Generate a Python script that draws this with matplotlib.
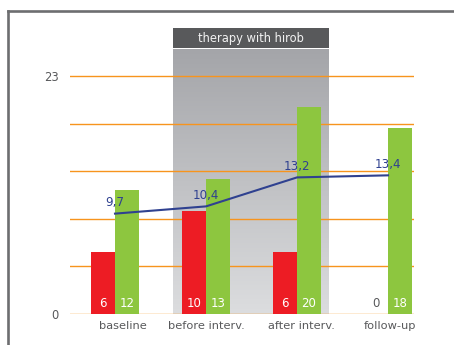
import numpy as np
import matplotlib
matplotlib.use("Agg")
import matplotlib.pyplot as plt
from matplotlib.lines import Line2D
from matplotlib.patches import Rectangle

categories = ["baseline", "before interv.", "after interv.", "follow-up"]
red_values = [6, 10, 6, 0]
green_values = [12, 13, 20, 18]
line_values = [9.7, 10.4, 13.2, 13.4]
line_labels = ["9,7", "10,4", "13,2", "13,4"]
ytick_values = [0, 23]
grid_values = [0, 4.6, 9.2, 13.8, 18.4, 23]
header_text = "therapy with hirob"

W, H = 454, 345
fig = plt.figure(figsize=(W / 100, H / 100), dpi=100)
fig.patch.set_facecolor("white")

# axes placement in pixels
ax_left, ax_right = 70, 414
ax_bottom_px, ax_top_px = 314, 28
ax = fig.add_axes([ax_left / W, (H - ax_bottom_px) / H,
                   (ax_right - ax_left) / W, (ax_bottom_px - ax_top_px) / H])
px_per_unit = (314 - 76) / 23.0
group_px = 91.0
x0_px = 115.0
ax.set_xlim((ax_left - x0_px) / group_px, (ax_right - x0_px) / group_px)
ax.set_ylim(0, (ax_bottom_px - ax_top_px) / px_per_unit)
for s in ax.spines.values():
    s.set_visible(False)
ax.set_facecolor("none")

# shaded therapy region with gradient
sx0 = (173 - x0_px) / group_px
sx1 = (329 - x0_px) / group_px
sy1 = (314 - 49) / px_per_unit
grad = np.linspace(0, 1, 256).reshape(-1, 1)
top_c = np.array([0xa4, 0xa5, 0xa9]) / 255
bot_c = np.array([0xdc, 0xdd, 0xdf]) / 255
img = top_c * (1 - grad[..., None]) + bot_c * grad[..., None]
img = img.reshape(256, 1, 3)
ax.imshow(img, extent=[sx0, sx1, 0, sy1], origin="upper", aspect="auto", zorder=0)
# header
hy0 = (314 - 48.3) / px_per_unit
hy1 = (314 - 27.7) / px_per_unit
ax.add_patch(Rectangle((sx0, hy0), sx1 - sx0, hy1 - hy0, facecolor="#58595b",
                       edgecolor="none", zorder=1, clip_on=False))
ax.text((sx0 + sx1) / 2, (hy0 + hy1) / 2 - 0.05, header_text, color="#f2f2f2",
        ha="center", va="center", fontsize=8.3, family="DejaVu Sans", zorder=2)

# gridlines
for g in grid_values:
    ax.axhline(g, color="#f7941d", lw=1.0, zorder=1.5)

x = np.arange(len(categories))
bw = 24 / group_px
ax.bar(x - bw / 2, red_values, width=bw, color="#ed1c24", zorder=3)
ax.bar(x + bw / 2, green_values, width=bw, color="#8dc63f", zorder=3)

for i in range(len(categories)):
    rc = "white" if red_values[i] > 0 else "#58595b"
    ax.text(x[i] - bw / 2, 0.4, str(red_values[i]), color=rc, ha="center",
            va="bottom", fontsize=8.5, zorder=4)
    ax.text(x[i] + bw / 2, 0.4, str(green_values[i]), color="white", ha="center",
            va="bottom", fontsize=8.5, zorder=4)

ax.plot(x, line_values, color="#2f4190", lw=1.5, zorder=5)
for i in range(len(categories)):
    ax.text(x[i], line_values[i] + 0.4, line_labels[i], color="#2f4190",
            ha="center", va="bottom", fontsize=8.6, zorder=6)

ax.set_yticks(ytick_values)
ax.set_yticklabels([str(v) for v in ytick_values], color="#58595b", fontsize=8.3)
ax.tick_params(axis="y", length=0, pad=8)
ax.set_xticks(x + np.array([0.09, 0, 0.05, 0.02]))
ax.set_xticklabels(categories, color="#58595b", fontsize=8.2)
ax.tick_params(axis="x", length=0, pad=5)

# outer frame
fig.add_artist(Line2D([8 / W, 8 / W], [0, (H - 11) / H], color="#6d6e70", lw=1.9,
                      transform=fig.transFigure, solid_capstyle="projecting"))
fig.add_artist(Line2D([8 / W, 1], [(H - 11) / H, (H - 11) / H], color="#6d6e70", lw=1.9,
                      transform=fig.transFigure, solid_capstyle="projecting"))

fig.savefig("out.png", dpi=100)
